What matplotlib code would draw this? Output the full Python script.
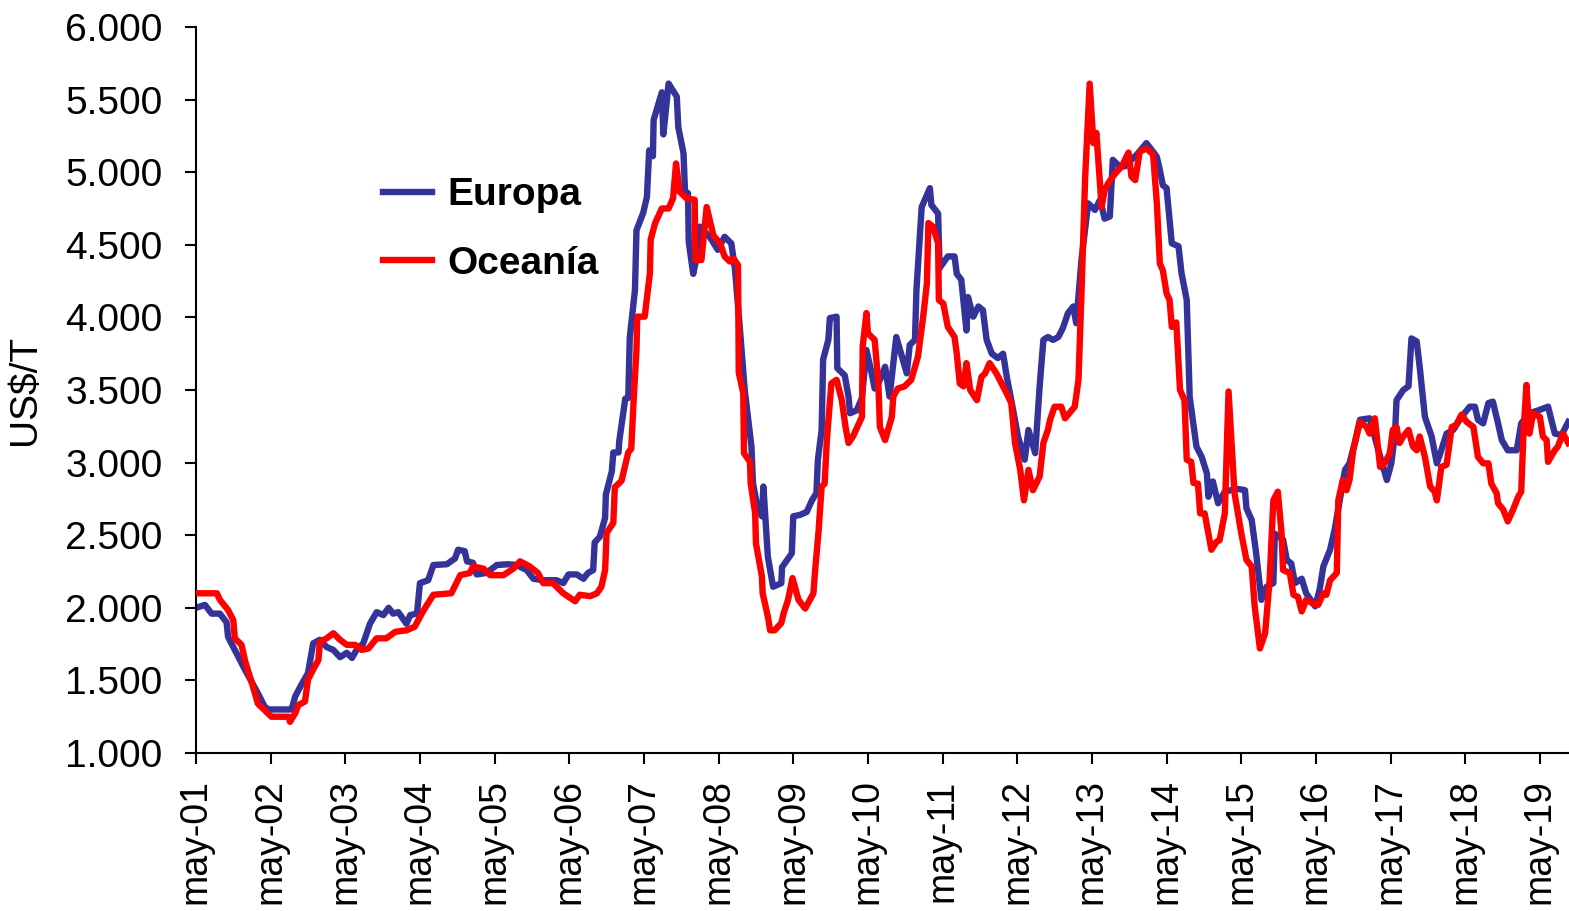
import matplotlib
matplotlib.use('Agg')
import matplotlib.pyplot as plt
from matplotlib.ticker import FuncFormatter, MultipleLocator

plt.rcParams['font.family'] = ['Liberation Sans', 'DejaVu Sans']

# años transcurridos desde may-01
t_europa = [0.00, 0.12, 0.21, 0.32, 0.41, 0.43, 0.52, 0.66, 0.81, 0.92, 0.97, 1.28, 1.33, 1.39, 1.50, 1.57,
            1.66, 1.75, 1.84, 1.93, 2.02, 2.09, 2.15, 2.24, 2.33, 2.42, 2.51, 2.58, 2.64, 2.71, 2.82, 2.87,
            2.96, 3.00, 3.11, 3.18, 3.36, 3.47, 3.51, 3.60, 3.63, 3.71, 3.76, 3.89, 4.03, 4.18, 4.29, 4.43,
            4.52, 4.65, 4.83, 4.92, 4.99, 5.10, 5.19, 5.25, 5.32, 5.34, 5.41, 5.48, 5.49, 5.57, 5.59, 5.66,
            5.67, 5.75, 5.79, 5.81, 5.88, 5.90, 5.99, 6.04, 6.07, 6.12, 6.13, 6.24, 6.26, 6.33, 6.44, 6.46,
            6.53, 6.55, 6.59, 6.60, 6.66, 6.71, 6.75, 6.88, 6.99, 7.08, 7.17, 7.22, 7.29, 7.35, 7.44, 7.46,
            7.51, 7.58, 7.60, 7.66, 7.73, 7.84, 7.85, 7.98, 8.00, 8.09, 8.18, 8.25, 8.31, 8.33, 8.38, 8.40,
            8.47, 8.49, 8.58, 8.59, 8.69, 8.74, 8.76, 8.85, 8.92, 8.98, 9.05, 9.09, 9.14, 9.23, 9.29, 9.38,
            9.47, 9.52, 9.56, 9.63, 9.65, 9.72, 9.83, 9.85, 9.94, 9.96, 10.07, 10.16, 10.19, 10.25, 10.32,
            10.34, 10.41, 10.48, 10.54, 10.59, 10.66, 10.74, 10.81, 10.86, 10.92, 11.01, 11.10, 11.15, 11.24,
            11.30, 11.35, 11.41, 11.48, 11.55, 11.61, 11.68, 11.75, 11.79, 11.86, 11.95, 12.04, 12.11, 12.17,
            12.24, 12.28, 12.37, 12.44, 12.60, 12.73, 12.82, 12.87, 12.91, 12.95, 13.00, 13.07, 13.16, 13.20,
            13.27, 13.31, 13.40, 13.47, 13.54, 13.56, 13.62, 13.69, 13.78, 13.94, 14.05, 14.07, 14.14, 14.20,
            14.27, 14.34, 14.43, 14.45, 14.56, 14.61, 14.67, 14.72, 14.81, 14.87, 14.99, 15.05, 15.10, 15.19,
            15.25, 15.39, 15.45, 15.52, 15.59, 15.72, 15.81, 15.95, 16.01, 16.06, 16.08, 16.17, 16.24, 16.28,
            16.35, 16.39, 16.46, 16.55, 16.62, 16.68, 16.75, 16.84, 16.95, 17.06, 17.13, 17.17, 17.24, 17.31,
            17.37, 17.44, 17.49, 17.57, 17.69, 17.75, 17.86, 17.98, 18.11, 18.20, 18.29, 18.38]
v_europa = [2000, 2020, 1960, 1960, 1900, 1800, 1710, 1570, 1430, 1320, 1300, 1300, 1390, 1450, 1550, 1755,
            1780, 1730, 1710, 1660, 1690, 1655, 1710, 1755, 1890, 1970, 1950, 2000, 1960, 1970, 1890, 1950,
            1960, 2170, 2190, 2295, 2300, 2340, 2400, 2390, 2320, 2310, 2230, 2240, 2295, 2300, 2295, 2260,
            2200, 2190, 2190, 2170, 2230, 2230, 2200, 2240, 2260, 2450, 2490, 2620, 2780, 2940, 3070, 3070,
            3150, 3440, 3445, 3860, 4190, 4600, 4720, 4830, 5150, 5110, 5360, 5550, 5260, 5610, 5520, 5310,
            5130, 4870, 4855, 4520, 4300, 4420, 4625, 4555, 4465, 4555, 4510, 4330, 3890, 3500, 3110, 2860,
            2720, 2630, 2835, 2350, 2145, 2170, 2280, 2375, 2630, 2640, 2660, 2740, 2790, 3020, 3225, 3710,
            3845, 3995, 4005, 3650, 3600, 3455, 3340, 3360, 3445, 3775, 3615, 3510, 3545, 3660, 3455, 3865,
            3705, 3615, 3810, 3845, 4190, 4760, 4890, 4775, 4715, 4340, 4420, 4420, 4300, 4260, 3910,
            4140, 4005, 4075, 4050, 3845, 3750, 3720, 3750, 3590, 3430, 3180, 3020, 3225, 3065,
            3525, 3845, 3865, 3845, 3865, 3925, 4030, 4075, 3960, 4395, 4785, 4740, 4810, 4680,
            4695, 5085, 5040, 5040, 5120, 5200, 5140, 5105, 5015, 4910, 4890, 4510, 4490, 4305,
            4120, 3450, 3110, 3040, 2925, 2765, 2870, 2720, 2800, 2820, 2810, 2685, 2605, 2375,
            2055, 2145, 2170, 2510, 2470, 2330, 2305, 2170, 2200, 2100, 2010, 2125, 2285, 2400,
            2535, 2950, 2995, 3135, 3295, 3305, 3135, 2880, 2995, 3200, 3430, 3500, 3525, 3855,
            3835, 3660, 3315, 3180, 2995, 3085, 3200, 3225, 3315, 3385, 3385, 3295, 3270, 3410,
            3420, 3270, 3155, 3085, 3085, 3270, 3340, 3360, 3385, 3200, 3190, 3280]

t_oceania = [0.00, 0.28, 0.32, 0.43, 0.50, 0.52, 0.61, 0.66, 0.75, 0.83, 0.90, 1.01, 1.24, 1.26, 1.33, 1.37,
             1.46, 1.50, 1.59, 1.64, 1.66, 1.75, 1.84, 1.93, 2.02, 2.13, 2.22, 2.31, 2.42, 2.55, 2.67, 2.82,
             2.93, 3.04, 3.18, 3.42, 3.54, 3.67, 3.71, 3.85, 3.94, 4.12, 4.25, 4.34, 4.47, 4.58, 4.65, 4.78,
             4.92, 5.08, 5.14, 5.28, 5.37, 5.43, 5.48, 5.50, 5.59, 5.61, 5.70, 5.79, 5.83, 5.86, 5.90, 5.91,
             6.01, 6.08, 6.09, 6.15, 6.24, 6.33, 6.39, 6.43, 6.48, 6.57, 6.68, 6.69, 6.77, 6.84, 6.93, 7.02,
             7.08, 7.15, 7.20, 7.26, 7.27, 7.33, 7.34, 7.42, 7.43, 7.49, 7.50, 7.58, 7.59, 7.66, 7.69, 7.75,
             7.84, 7.87, 7.93, 7.99, 8.07, 8.16, 8.27, 8.29, 8.34, 8.38, 8.42, 8.45, 8.51, 8.58, 8.65, 8.70,
             8.74, 8.80, 8.92, 8.93, 8.98, 9.00, 9.09, 9.14, 9.16, 9.23, 9.32, 9.34, 9.40, 9.49, 9.58, 9.67,
             9.74, 9.79, 9.81, 9.87, 9.94, 9.95, 10.01, 10.07, 10.16, 10.19, 10.23, 10.28, 10.32, 10.37,
             10.46, 10.52, 10.57, 10.63, 10.72, 10.79, 10.86, 10.92, 10.97, 11.04, 11.09, 11.15, 11.21,
             11.30, 11.35, 11.41, 11.44, 11.50, 11.59, 11.64, 11.73, 11.77, 11.82, 11.86, 11.91, 11.97,
             12.02, 12.06, 12.13, 12.17, 12.22, 12.31, 12.40, 12.49, 12.53, 12.58, 12.64, 12.73, 12.82,
             12.87, 12.91, 12.95, 13.00, 13.04, 13.07, 13.13, 13.18, 13.24, 13.27, 13.33, 13.36, 13.42,
             13.45, 13.51, 13.60, 13.67, 13.71, 13.78, 13.83, 13.91, 14.00, 14.07, 14.14, 14.18, 14.25,
             14.32, 14.38, 14.43, 14.49, 14.54, 14.56, 14.65, 14.70, 14.76, 14.81, 14.87, 14.96, 15.03,
             15.10, 15.14, 15.19, 15.28, 15.30, 15.36, 15.41, 15.45, 15.50, 15.59, 15.68, 15.72, 15.79,
             15.86, 15.92, 15.99, 16.03, 16.08, 16.12, 16.17, 16.24, 16.30, 16.35, 16.39, 16.46, 16.53,
             16.59, 16.62, 16.68, 16.75, 16.82, 16.88, 16.95, 17.02, 17.11, 17.17, 17.24, 17.31, 17.35,
             17.42, 17.44, 17.51, 17.57, 17.64, 17.71, 17.75, 17.78, 17.82, 17.86, 17.91, 18.00, 18.04,
             18.09, 18.11, 18.20, 18.24, 18.31, 18.38]
v_oceania = [2100, 2100, 2055, 1985, 1915, 1790, 1745, 1630, 1480, 1340, 1305, 1250, 1250, 1215, 1275, 1330,
             1355, 1505, 1595, 1640, 1765, 1790, 1825, 1780, 1745, 1745, 1710, 1720, 1790, 1790, 1835, 1845,
             1870, 1975, 2090, 2100, 2225, 2240, 2285, 2270, 2225, 2225, 2270, 2320, 2285, 2240, 2170, 2170,
             2100, 2045, 2090, 2080, 2100, 2145, 2260, 2515, 2585, 2830, 2875, 3070, 3095, 3410, 3775, 4005,
             4005, 4305, 4535, 4650, 4750, 4750, 4820, 5060, 4865, 4820, 4810, 4395, 4395, 4760, 4565, 4510,
             4420, 4385, 4405, 4360, 3620, 3480, 3065, 3005, 2855, 2650, 2445, 2215, 2100, 1940, 1845, 1845,
             1895, 1960, 2055, 2205, 2055, 1995, 2100, 2240, 2535, 2835, 2855, 3155, 3545, 3570, 3430, 3245,
             3135, 3180, 3315, 3800, 4030, 3890, 3845, 3545, 3245, 3155, 3315, 3455, 3510, 3525, 3570, 3730,
             4005, 4235, 4650, 4625, 4510, 4120, 4095, 3935, 3865, 3750, 3545, 3525, 3685, 3500,
             3430, 3590, 3615, 3685, 3615, 3545, 3475, 3410, 3135, 2950, 2740, 2950, 2810,
             2905, 3135, 3225, 3295, 3385, 3385, 3305, 3360, 3385, 3570, 4165, 4970, 5610,
             5200, 5270, 4760, 4875, 4925, 4990, 5040, 5135, 4970, 4945, 5140, 5165, 5120,
             4785, 4370, 4325, 4165, 4120, 3935, 3965, 3500, 3430, 3020, 3005, 2860, 2855,
             2650, 2650, 2400, 2455, 2465, 2650, 3490, 2790, 2515, 2330, 2285, 2010, 1720,
             1825, 2190, 2740, 2800, 2515, 2260, 2240, 2090, 2075, 1975, 2055, 2030, 2020,
             2100, 2090, 2190, 2240, 2740, 2880, 2810, 2880, 3085, 3280, 3245, 3200, 3305,
             2970, 2995, 3065, 3225, 3245, 3135, 3180, 3225, 3110, 3085, 3180, 3040, 2835,
             2800, 2740, 2970, 2985, 3245, 3260, 3330, 3280, 3245, 3040, 2995, 2995, 2855,
             2790, 2720, 2675, 2595, 2675, 2765, 2800, 3200, 3535, 3200, 3340, 3315, 3180,
             3155, 3005, 3085, 3110, 3200, 3135]

etiquetas_x = ['may-%02d' % a for a in range(1, 20)]
azul = '#333399'
rojo = '#FF0000'

fig = plt.figure(figsize=(15.69, 9.11), dpi=100)
ax = fig.add_axes([0.1249, 0.1734, 0.8751, 0.797])

ax.plot(t_europa, v_europa, color=azul, lw=4.6, label='Europa', zorder=2)
ax.plot(t_oceania, v_oceania, color=rojo, lw=4.6, label='Oceanía', zorder=3)

ax.set_xlim(0, 18.39)
ax.set_ylim(1000, 6000)
ax.yaxis.set_major_locator(MultipleLocator(500))
ax.yaxis.set_major_formatter(FuncFormatter(lambda v, p: '{:,.0f}'.format(v).replace(',', '.')))
ax.set_xticks(range(19))
ax.set_xticklabels(etiquetas_x, rotation=90)

ax.tick_params(axis='y', labelsize=28, length=8, width=1.5, pad=16, direction='out')
ax.tick_params(axis='x', labelsize=27, length=8, width=1.5, pad=11, direction='out')
ax.set_ylabel('US$/T', fontsize=28, labelpad=16)

ax.spines['top'].set_visible(False)
ax.spines['right'].set_visible(False)
ax.spines['left'].set_linewidth(1.5)
ax.spines['bottom'].set_linewidth(1.5)

ax.legend(loc='upper left', bbox_to_anchor=(0.1363, 0.793), frameon=False,
          prop={'size': 28, 'weight': 'bold'}, handlelength=1.26, handletextpad=0.39,
          labelspacing=0.83, borderpad=0, borderaxespad=0)

plt.savefig('out.png', dpi=100)
